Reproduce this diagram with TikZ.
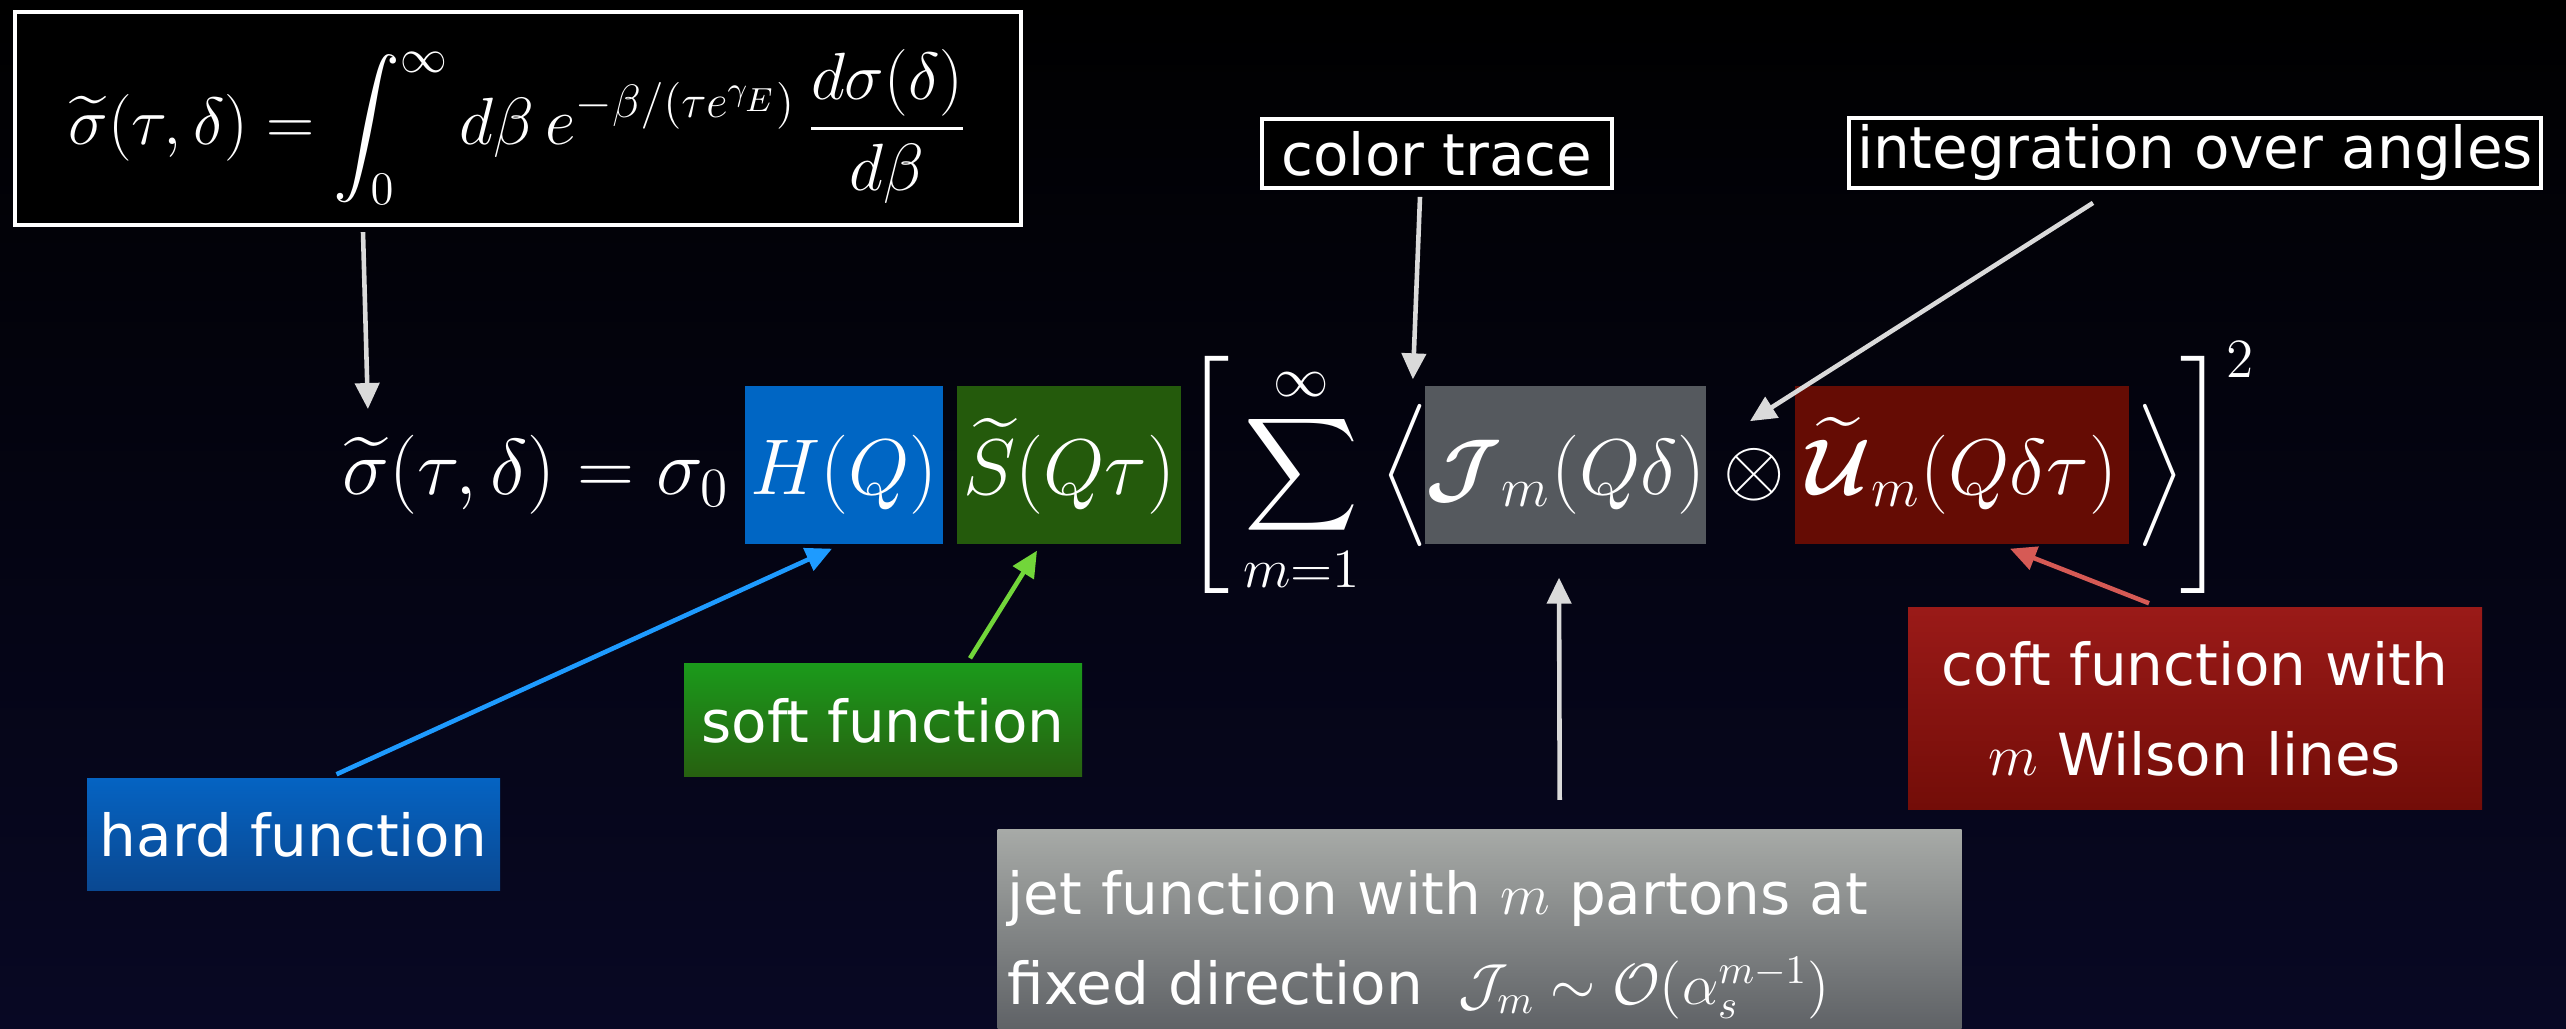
\documentclass[tikz,border=0pt]{standalone}
\usepackage{fix-cm}
\usepackage{amsmath}
\usepackage{amssymb}
\usepackage{fontspec}
\newfontfamily\chalk{DejaVu Sans}
\usepackage{tikz}
\usetikzlibrary{arrows.meta, positioning, calc}
\definecolor{slideBg}{HTML}{080824}
\definecolor{hardBlue}{HTML}{0066C4}
\definecolor{softGreen}{HTML}{245A0C}
\definecolor{jetGray}{HTML}{55595E}
\definecolor{coftRed}{HTML}{650C04}
\definecolor{hardTop}{HTML}{0563C2}
\definecolor{hardBot}{HTML}{0A4891}
\definecolor{softTop}{HTML}{1B9A1B}
\definecolor{softBot}{HTML}{276010}
\definecolor{coftTop}{HTML}{9A1A18}
\definecolor{coftBot}{HTML}{730D08}
\definecolor{jetTop}{HTML}{A7AAA7}
\definecolor{jetBot}{HTML}{54575C}
\definecolor{arrowGray}{HTML}{DADADA}
\definecolor{arrowBlue}{HTML}{1E9BFF}
\definecolor{arrowGreen}{HTML}{72D63A}
\definecolor{arrowRed}{HTML}{D65A55}
\newcommand\notefont{\chalk\fontsize{16.5}{25.6}\selectfont}

\begin{document}
\begin{tikzpicture}[
  font=\fontsize{22.5}{27}\selectfont, text=white,
  term/.style={anchor=base, inner xsep=0pt, inner ysep=0pt,
               text height=1.09cm, text depth=0.49cm},
  note/.style={font=\notefont, text=white, align=center, inner sep=0pt},
  tag/.style={note, draw=white, line width=1.1pt, fill=black},
  a/.style={-{Triangle[length=2.6mm, width=2.4mm]}, line width=1.3pt, draw=arrowGray},
  ab/.style={a, draw=arrowBlue},
  ag/.style={a, draw=arrowGreen},
  ar/.style={a, draw=arrowRed}
]
\useasboundingbox (0,0) rectangle (25.66,-10.29);
\clip (0,0) rectangle (25.66,-10.29);
\shade[top color=black, bottom color=slideBg] (0,0) rectangle (25.66,-10.29);

\node[anchor=base, draw=white, line width=1.2pt, fill=black, inner sep=0pt,
      minimum width=10.06cm, text height=1.33cm, text depth=0.8cm,
      font=\fontsize{19}{23}\selectfont] (formula) at (5.18,-1.45)
  {$\displaystyle \widetilde{\sigma}(\tau,\delta)=\int_0^\infty d\beta\, e^{-\beta/(\tau e^{\gamma_E})}\,\frac{d\sigma(\delta)}{d\beta}$};

\node[anchor=base east, inner sep=0pt] (lhs) at (7.30,-4.95) {$\widetilde{\sigma}(\tau,\delta)=\sigma_0$};
\node[term, fill=hardBlue, minimum width=1.98cm] (hq) at (8.44,-4.95) {$H(Q)$};
\node[term, fill=softGreen, minimum width=2.24cm] (sqt) at (10.69,-4.95) {$\widetilde{S}(Q\tau)$};
\node[anchor=base west, inner sep=0pt] (lbrack) at (11.83,-4.95) {$\displaystyle\Bigg[\sum_{m=1}^{\infty}$};
\node[anchor=base west, inner sep=0pt] (langle) at (13.80,-4.95) {$\Big\langle$};
\node[term, fill=jetGray, minimum width=2.77cm] (jm) at (15.655,-4.95) {$\boldsymbol{\mathcal{J}}_m(Q\delta)$};
\node[anchor=base, inner sep=0pt] (otimes) at (17.54,-4.95) {$\otimes$};
\node[term, fill=coftRed, minimum width=3.34cm] (um) at (19.62,-4.95) {$\widetilde{\boldsymbol{\mathcal{U}}}_m(Q\delta\tau)$};
\node[anchor=base west, inner sep=0pt] (rangle) at (21.36,-4.95) {$\Big\rangle$};
\node[anchor=base west, inner sep=0pt] (rbrack) at (21.80,-4.95) {$\Bigg]^2$};

\node[tag, minimum width=3.5cm, minimum height=0.69cm] (colortrace) at (14.37,-1.535) {color trace};
\node[tag, minimum width=6.92cm, minimum height=0.7cm] (integ) at (21.95,-1.53) {integration over angles};
\node[note, top color=hardTop, bottom color=hardBot,
      minimum width=4.13cm, minimum height=1.12cm] (hard) at (2.935,-8.35) {hard function};
\node[note, top color=softTop, bottom color=softBot,
      minimum width=3.98cm, minimum height=1.13cm] (soft) at (8.83,-7.205) {soft function};
\node[note, top color=coftTop, bottom color=coftBot,
      minimum width=5.74cm, minimum height=2.02cm] (coft) at (21.95,-7.09)
  {coft function with\\$m$ Wilson lines};
\node[note, anchor=north west, align=left, top color=jetTop, bottom color=jetBot,
      text width=9.44cm, inner xsep=0.1cm, minimum width=9.64cm, minimum height=2.3cm] (jet) at (9.97,-8.29)
  {jet function with $m$ partons at\\fixed direction\; $\mathcal{J}_m\sim\mathcal{O}(\alpha_s^{m-1})$};

\draw[a] ([xshift=-1.55cm, yshift=-0.05cm]formula.south) -- ([xshift=0.26cm, yshift=0.26cm]lhs.north west);
\draw[a] ([xshift=-0.17cm, yshift=-0.07cm]colortrace.south) -- ([xshift=0.08cm, yshift=0.24cm]langle.north);
\draw[a] ([xshift=-1.02cm, yshift=-0.13cm]integ.south) -- ([xshift=-0.04cm, yshift=0.27cm]otimes.north);
\draw[ab] ([xshift=0.43cm, yshift=0.04cm]hard.north) -- ([xshift=-0.12cm, yshift=-0.04cm]hq.south);
\draw[ag] ([xshift=0.87cm, yshift=0.05cm]soft.north) -- ([xshift=-0.32cm, yshift=-0.06cm]sqt.south);
\draw[a] ([xshift=0.80cm, yshift=0.29cm]jet.north) -- ([xshift=-0.065cm, yshift=-0.33cm]jm.south);
\draw[ar] ([xshift=-0.46cm, yshift=0.04cm]coft.north) -- ([xshift=0.48cm, yshift=-0.04cm]um.south);

\end{tikzpicture}
\end{document}
